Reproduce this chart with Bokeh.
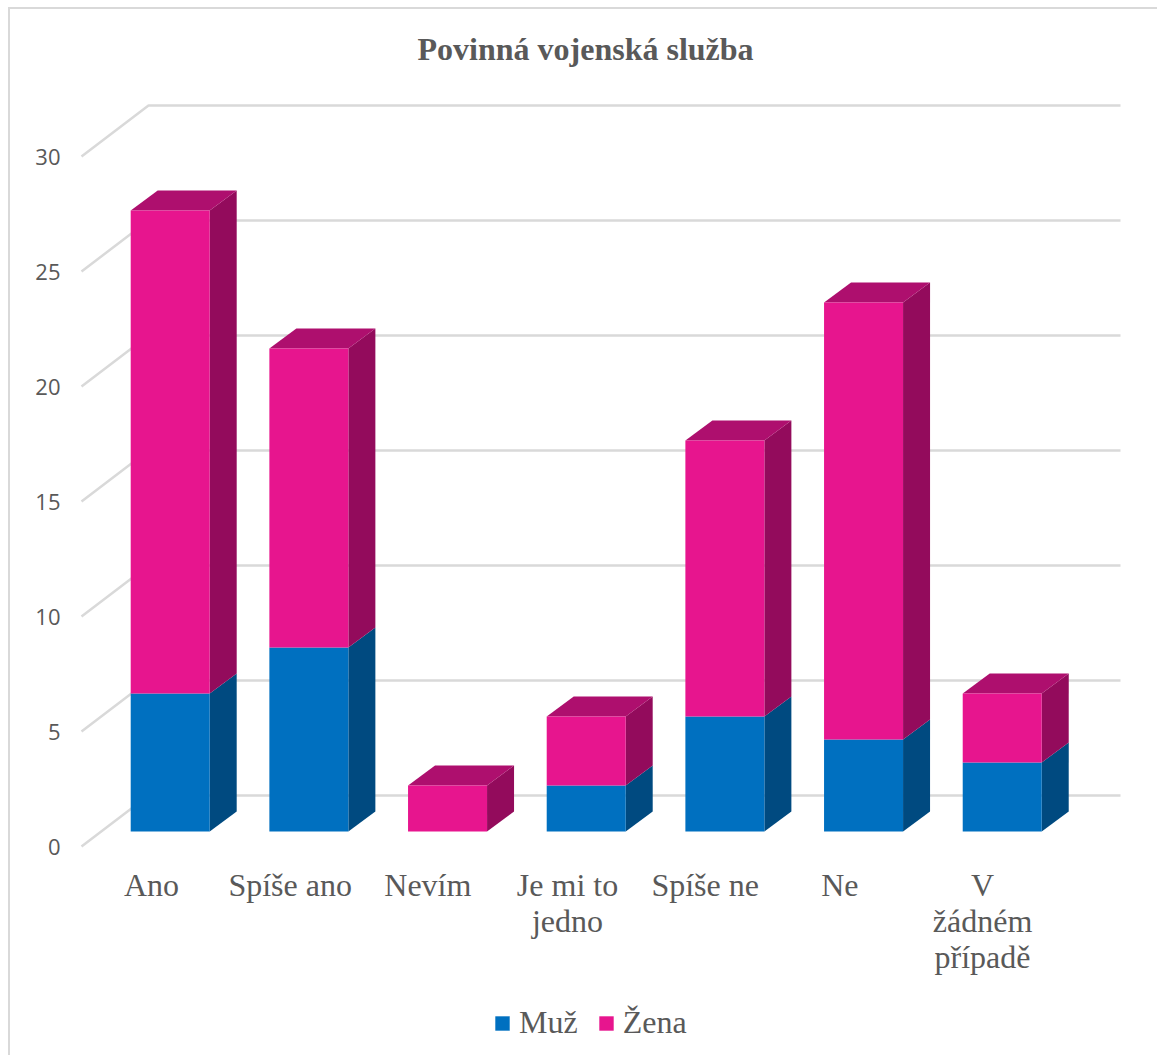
from bokeh.plotting import figure
from bokeh.models import Range1d, LinearAxis, FixedTicker, ColumnDataSource, Legend, LegendItem, Title
from bokeh.core.properties import value
from bokeh.embed import file_html
from bokeh.resources import INLINE

# ---------- data ----------
categories = ["Ano", "Spíše ano", "Nevím", "Je mi to\njedno", "Spíše ne", "Ne", "V\nžádném\npřípadě"]
muz = [6, 8, 0, 2, 5, 4, 3]
zena = [21, 13, 2, 3, 12, 19, 3]
y_ticks = [0, 5, 10, 15, 20, 25, 30]

# ---------- colours ----------
BLUE, BLUE_SIDE = "#0070c0", "#004a80"
PINK, PINK_SIDE, PINK_TOP = "#e7158e", "#930b5c", "#ae0f6e"
GRID, TEXT = "#d9d9d9", "#595959"

# ---------- layout in page pixels ----------
OFF_X, OFF_Y = 10, 9                     # figure content origin on the page
FIG_W, FIG_H = 1159 - OFF_X, 1057 - OFF_Y
F_L, F_R, F_T, F_B = 66, 1130, 72, 1050  # frame edges in the picture
X0, STEP = 169.7, 138.67                 # first bar centre, bar pitch
Y0, UNIT = 831.0, 23.0                   # bar baseline, pixels per value unit
BAR_W = 79 / STEP
DX, DY = 27 / STEP, 20 / UNIT            # bar depth
WX, WY = 67 / STEP, 51 / UNIT            # wall depth
AXIS_SHIFT = 15 / UNIT                   # front plane below bar baseline
LABEL_SHIFT = 18.7 / STEP                # category labels left of bars
LABEL_NUDGE = [0, 0, -1, 0, -1, -5, -1]  # extra label shift, pixels
LABEL_TOP = (Y0 - 866) / UNIT
GRID_L = (81 - X0) / STEP
GRID_R = (1120 - X0) / STEP

x_lo, x_hi = (F_L - X0) / STEP, (F_R - X0) / STEP
y_lo, y_hi = (Y0 - F_B) / UNIT, (Y0 - F_T) / UNIT

p = figure(width=FIG_W, height=FIG_H, output_backend="svg", toolbar_location=None,
           x_range=Range1d(x_lo, x_hi), y_range=Range1d(y_lo, y_hi),
           x_axis_type=None, y_axis_type=None,
           min_border_left=F_L - OFF_X, min_border_right=FIG_W + OFF_X - F_R,
           min_border_top=F_T - OFF_Y, min_border_bottom=FIG_H + OFF_Y - F_B,
           outline_line_color=None, background_fill_color="white", border_fill_color="white",
           styles={"margin-left": "8px", "margin-top": "7px",
                   "border-left": f"2px solid {GRID}", "border-top": f"2px solid {GRID}"})
p.grid.visible = False

p.extra_y_ranges = {"front": Range1d(y_lo + AXIS_SHIFT, y_hi + AXIS_SHIFT)}

# walls / gridlines
gx = [[GRID_L, GRID_L + WX, GRID_R] for _ in y_ticks]
gy = [[t - AXIS_SHIFT, t - AXIS_SHIFT + WY, t - AXIS_SHIFT + WY] for t in y_ticks]
p.multi_line(gx, gy, line_color=GRID, line_width=2.5)

# bars
xs = list(range(len(categories)))
tops = [m + z for m, z in zip(muz, zena)]
src = ColumnDataSource(dict(x=xs, muz=muz, top=tops, base=[0] * len(xs)))

def side(lo, hi):
    px, py = [], []
    for x, a, b in zip(xs, lo, hi):
        r = x + BAR_W / 2
        px.append([r, r + DX, r + DX, r])
        py.append([a, a + DY, b + DY, b])
    return px, py

bx, by = side([0] * len(xs), muz)
keep = [i for i, m in enumerate(muz) if m > 0]
p.patches([bx[i] for i in keep], [by[i] for i in keep], fill_color=BLUE_SIDE, line_color=None)
zx, zy = side(muz, tops)
p.patches(zx, zy, fill_color=PINK_SIDE, line_color=None)
p.patches([[x - BAR_W / 2, x + BAR_W / 2, x + BAR_W / 2 + DX, x - BAR_W / 2 + DX] for x in xs],
          [[t, t, t + DY, t + DY] for t in tops], fill_color=PINK_TOP, line_color=None)

r_m = p.vbar(x="x", bottom="base", top="muz", width=BAR_W, source=src, fill_color=BLUE, line_color=None)
r_z = p.vbar(x="x", bottom="muz", top="top", width=BAR_W, source=src, fill_color=PINK, line_color=None)

# y axis
ya = LinearAxis(y_range_name="front", ticker=FixedTicker(ticks=y_ticks), axis_line_color=None,
                major_tick_line_color=None, minor_tick_line_color=None, major_label_standoff=0,
                major_label_text_font="Open Sans", major_label_text_font_size="22px",
                major_label_text_color=TEXT)
p.add_layout(ya, "left")

# category labels
p.text(x=[x - LABEL_SHIFT + n / STEP for x, n in zip(xs, LABEL_NUDGE)], y=[LABEL_TOP] * len(xs),
       text=categories, text_align="center", text_baseline="top",
       text_font=value("Liberation Serif"), text_font_size="32px", text_color=TEXT,
       text_line_height=1.0)

# title
p.add_layout(Title(text="Povinná vojenská služba", align="left", offset=351,
                   text_font="Liberation Serif", text_font_style="bold",
                   text_font_size="32px", text_color=TEXT, standoff=11), "above")

# legend
leg = Legend(items=[LegendItem(label="Muž", renderers=[r_m]), LegendItem(label="Žena", renderers=[r_z])],
             orientation="horizontal", location=(427, 9), padding=0, margin=0, spacing=19,
             glyph_width=18, glyph_height=18, label_standoff=8,
             label_text_font="Liberation Serif", label_text_font_size="32px", label_text_color=TEXT,
             background_fill_alpha=0, border_line_color=None)
p.add_layout(leg)

open("out.html", "w").write(file_html(p, INLINE))
